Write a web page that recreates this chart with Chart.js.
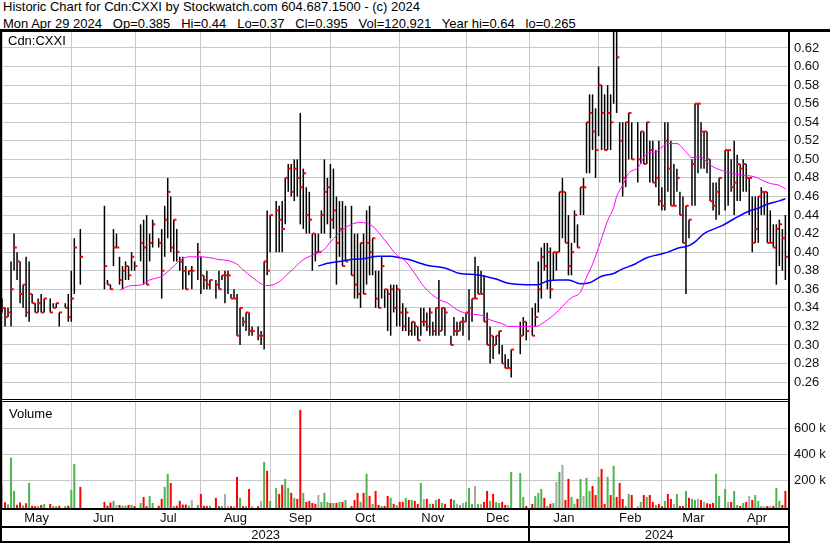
<!DOCTYPE html>
<html>
<head>
<meta charset="utf-8">
<script src="https://cdn.jsdelivr.net/npm/chart.js@4.4.1/dist/chart.umd.min.js"></script>
<style>
body { margin: 0; background: #fff; font-family: "Liberation Sans", Arial, sans-serif; color: #000; }
#wrap { position: relative; width: 830px; height: 543px; overflow: hidden; }
.t { position: absolute; white-space: pre; font-size: 13px; line-height: 15px; }
.ln { position: absolute; background: #000; }
canvas { position: absolute; left: 0; }
</style>
</head>
<body>
<div id="wrap">
  <div class="t" style="left:3px;top:-1px">Historic Chart for Cdn:CXXI by Stockwatch.com 604.687.1500 - (c) 2024</div>
  <div class="t" style="left:3px;top:16px">Mon Apr 29 2024   Op=0.385   Hi=0.44   Lo=0.37   Cl=0.395   Vol=120,921   Year hi=0.64   lo=0.265</div>
  <canvas id="price" width="830" height="367" style="top:32px"></canvas>
  <canvas id="vol" width="830" height="141" style="top:402px"></canvas>
  <div class="t" style="left:8px;top:33px">Cdn:CXXI</div>
  <div class="t" style="left:9px;top:406px">Volume</div>
  <div class="ln" style="left:0;top:29px;width:830px;height:3px"></div>
  <div class="ln" style="left:0;top:29px;width:2px;height:514px"></div>
  <div class="ln" style="left:788px;top:29px;width:2px;height:514px"></div>
  <div class="ln" style="left:0;top:399px;width:790px;height:1px"></div>
  <div class="ln" style="left:0;top:401px;width:790px;height:1px"></div>
  <div class="ln" style="left:0;top:508px;width:790px;height:2px"></div>
  <div class="ln" style="left:0;top:526px;width:790px;height:2px"></div>
  <div class="ln" style="left:0;top:541px;width:790px;height:2px"></div>
</div>
<script>
// axis labels
const months = ['May', 'Jun', 'Jul', 'Aug', 'Sep', 'Oct', 'Nov', 'Dec', 'Jan', 'Feb', 'Mar', 'Apr'];
const monthStart = [0, 23, 44.4, 66, 89, 109.1, 132, 154, 175, 198, 219, 240];   // weekday slot where each month begins
const years = ['2023', '2024'];
const yearStart = [0, 175];
const lastSlot = 261.2;
const priceTicks = [0.26, 0.28, 0.30, 0.32, 0.34, 0.36, 0.38, 0.40, 0.42, 0.44, 0.46, 0.48, 0.50, 0.52, 0.54, 0.56, 0.58, 0.60, 0.62];
const volTicks = [200, 400, 600];

// one slot per weekday, May 1 2023 .. Apr 29 2024 (null = no trade)
const hi = [
  .35,.34,.34,.39,.42,.40,.39,.365,.395,.39,.355,.345,.35,.355,.35,null,.35,.345,.345,.335,null,.345,.355,
  .38,.415,null,.425,null,null,null,null,null,null,null,.45,.37,.365,.425,.42,.395,.385,.39,.385,.40,.39,
  null,.43,.435,.44,.42,.435,null,.415,.425,.45,.48,.46,.435,.425,.395,.395,.385,.38,.385,null,.41,
  .395,.375,.38,.37,null,.37,.38,.375,.38,.38,.355,.36,.355,.34,.33,.335,.335,.32,null,.32,.315,.39,.445,
  .44,null,.455,.45,.455,.48,.495,.495,.50,.50,.55,.49,.47,.465,.42,.42,.42,.445,.50,.48,.495,
  .49,.46,.455,.455,.45,null,.45,.42,.42,.41,.42,.445,.45,.415,.38,.38,.395,.36,.36,.365,.365,.365,
  .36,.345,.34,.33,.325,.325,.32,.34,.34,.335,.34,.325,.34,.37,.34,.34,null,.31,.33,.325,.325,.33,
  .335,.36,.35,.395,.385,.38,.375,.335,.32,.31,.31,.315,.30,.29,.285,.295,null,null,.325,.33,.325,
  null,.34,.345,.39,.405,.41,.41,.405,.40,.40,.465,.48,.465,.44,.41,.445,.43,.47,.48,.54,.57,.57,.555,
  .60,.58,.57,.58,.57,.64,.64,.54,.54,.54,.55,.54,null,.54,.53,.53,.54,.52,.52,.51,.52,
  .47,.54,.54,.52,.495,.49,.465,.46,.45,.435,.50,.56,.56,.54,.53,.53,.50,.475,.475,.48,null,
  .51,.51,.50,.52,.505,.495,.50,.495,.48,.46,.46,.46,.47,.465,.465,.445,.43,.43,.435,.425,.44
];
const lo = [
  .335,.32,.33,.32,.38,.37,.345,.34,.33,.325,.345,.335,.335,.335,.335,null,.335,.34,.34,.32,null,.34,.325,
  .325,.355,null,.365,null,null,null,null,null,null,null,.36,.365,.36,.385,.405,.365,.36,.37,.37,.38,.38,
  null,.39,.365,.365,.39,.405,null,.405,.35,.395,.415,.40,.39,.39,.38,.36,.36,.375,.36,null,.37,
  .355,.36,.36,.36,null,.35,.36,.37,.345,.355,.35,.35,.31,.30,.32,.315,.31,.31,null,.305,.30,.295,.375,
  .40,null,.40,.40,.40,.43,.465,.46,.455,.46,.43,.425,.42,.42,.38,.39,.40,.42,.42,.43,.415,
  .425,.365,.395,.385,.39,null,.375,.35,.35,.34,.355,.365,.375,.375,.34,.34,.35,.34,.315,.31,.335,.32,
  .32,.315,.315,.31,.31,.31,.305,.31,.32,.315,.31,.31,.31,.31,.315,.31,null,.30,.31,.31,.315,.31,
  .325,.305,.325,.35,.355,.355,.325,.30,.28,.285,.30,.29,.28,.275,.275,.265,null,null,.29,.31,.305,
  null,.31,.32,.335,.35,.38,.36,.35,.37,.38,.40,.415,.41,.375,.375,.41,.405,.44,.44,.485,.485,.51,.48,
  .525,.51,.51,.51,.51,.56,.55,.475,.46,.47,.50,.50,null,.475,.495,.495,.495,.475,.475,.47,.45,
  .445,.445,.465,.45,.45,.465,.44,.41,.355,.415,.45,.45,.485,.49,.49,.485,.455,.445,.435,.44,null,
  .445,.45,.465,.44,.455,.455,.465,.465,.44,.40,.41,.41,.44,.44,.41,.41,.405,.365,.385,.38,.37
];
const cl = [
  .34,.33,.335,.36,.405,.39,.355,.365,.335,.355,.345,.335,.345,.335,.35,null,.335,.34,.345,.335,null,.34,.33,
  .35,.405,null,.395,null,null,null,null,null,null,null,.385,.365,.36,.405,.405,.37,.38,.385,.375,.395,.385,
  null,.41,.405,.365,.41,.43,null,.41,.38,.435,.465,.405,.435,.40,.39,.38,.36,.38,.38,null,.40,
  .375,.37,.365,.37,null,.365,.36,.375,.375,.375,.35,.35,.31,.34,.325,.335,.315,.315,null,.31,.31,.39,.38,
  .44,null,.445,.435,.425,.48,.49,.465,.49,.48,.47,.485,.44,.435,.42,.40,.40,.44,.465,.47,.435,
  .445,.41,.425,.385,.39,null,.375,.365,.355,.41,.355,.41,.40,.415,.35,.34,.385,.36,.355,.36,.34,.36,
  .335,.32,.335,.315,.325,.32,.305,.325,.325,.32,.335,.315,.34,.315,.34,.335,null,.30,.315,.315,.325,.325,
  .335,.34,.35,.35,.355,.355,.325,.30,.31,.30,.31,.315,.28,.275,.275,.295,null,null,.31,.325,.315,
  null,.31,.33,.36,.395,.385,.40,.36,.40,.40,.465,.465,.41,.385,.40,.44,.405,.47,.47,.54,.55,.53,.51,
  .58,.55,.51,.55,.54,.64,.61,.52,.48,.54,.55,.50,null,.50,.53,.495,.54,.51,.475,.48,.455,
  .45,.52,.49,.45,.45,.48,.44,.41,.45,.435,.495,.56,.56,.53,.53,.50,.455,.45,.465,.48,null,
  .51,.51,.47,.475,.495,.49,.495,.48,.48,.41,.425,.46,.465,.465,.41,.41,.405,.425,.43,.415,.395
];
// volume in thousands of shares
const vol = [
  172,34,19,376,121,15,34,10,27,182,8,5,5,14,22,null,22,5,5,8,null,5,8,
  129,327,null,152,null,null,null,null,null,null,null,37,8,32,45,14,14,8,8,14,14,5,
  null,29,75,5,83,29,null,8,60,152,251,182,5,8,45,17,17,8,50,null,14,
  98,8,5,8,null,68,5,5,98,5,5,5,228,68,5,5,136,5,null,5,45,343,274,
  45,null,144,98,167,213,144,106,68,60,740,106,37,45,29,22,90,37,106,37,29,
  29,29,37,37,52,null,5,52,106,37,106,251,83,22,121,14,5,6,83,68,22,14,
  37,37,68,52,52,45,22,182,60,60,22,22,52,60,29,22,null,60,52,22,14,29,
  37,144,22,159,22,22,37,121,45,98,37,29,37,14,14,266,null,null,258,75,6,
  null,22,83,106,136,68,6,22,29,190,266,320,52,213,75,22,60,213,83,221,121,159,90,
  228,289,22,228,90,312,75,182,60,6,98,90,null,6,37,90,75,90,37,14,22,
  5,45,98,60,22,98,6,6,121,68,60,52,60,52,37,27,22,30,251,83,null,
  136,37,37,121,14,6,29,37,83,52,90,45,5,5,6,5,6,144,45,14,121
];
// moving averages: [slot, value]
const maShort = [[39,.359],[43,.364],[46,.3645],[49,.37],[53,.374],[55,.379],[57,.385],[59,.391],[62,.395],[66,.395],
  [69,.394],[72,.392],[75,.391],[78,.387],[80,.381],[83,.373],[86,.366],[88,.364],[92,.368],[94,.374],[97,.383],
  [100,.392],[104,.398],[107,.403],[109,.411],[113,.424],[116,.43],[119,.432],[123,.428],[125,.421],[128,.409],
  [131,.397],[134,.39],[137,.377],[140,.363],[145,.349],[148,.345],[151,.338],[154,.334],[159,.332],[162,.327],
  [166,.323],[168,.32],[174,.32],[177,.32],[181,.327],[185,.338],[187,.345],[189,.351],[192,.357],[194,.373],
  [196,.387],[198,.405],[201,.434],[203,.448],[204,.46],[206,.472],[208,.485],[211,.491],[214,.506],[217,.508],
  [219,.513],[221,.517],[224,.517],[227,.508],[229,.502],[232,.503],[233,.50],[236,.492],[239,.488],[242,.485],
  [246,.483],[250,.481],[252,.478],[255,.474],[258,.472],[260,.468]];
const maLong = [[105,.385],[108,.388],[112,.39],[116,.392],[120,.393],[125,.3955],[129,.3955],[132,.394],[135,.392],
  [141,.386],[147,.383],[152,.377],[158,.3755],[164,.371],[168,.3665],[174,.365],[178,.365],[181,.369],[185,.37],
  [188,.37],[192,.366],[195,.367],[199,.374],[203,.377],[206,.382],[210,.387],[214,.394],[218,.3975],[221,.4],
  [224,.404],[228,.407],[230,.411],[233,.42],[239,.4286],[243,.436],[248,.4444],[251,.4474],[254,.4517],[258,.4553],[260,.4575]];

Chart.defaults.font.family = '"Liberation Sans", Arial, sans-serif';
Chart.defaults.font.size = 13;
Chart.defaults.color = '#111';

const GRID = '#c8c8c8';

// build points
let rangePts = [], closePts = [], volPts = [], volColors = [];
let prev = null;
for (let i = 0; i < hi.length; i++) {
    if (hi[i] !== null) {
        rangePts.push({x: i, y: [lo[i], hi[i]]});
        closePts.push({x: i + 0.45, y: cl[i]});
    }
    if (vol[i] !== null) {
        volPts.push({x: i, y: vol[i]});
        let c = '#a8a8a8';
        if (prev !== null && cl[i] > prev) c = '#4fb34f';
        if (prev !== null && cl[i] < prev) c = '#ff0000';
        volColors.push(c);
    }
    if (cl[i] !== null) prev = cl[i];
}
const toPts = arr => arr.map(p => ({x: p[0], y: p[1]}));

// keep the plot area exactly where the axis range says
function noPad(s) {
    s.paddingTop = 0;
    s.paddingBottom = 0;
    s.paddingLeft = 0;
    s.paddingRight = 0;
}

function monthGridAxis() {
    return {
        type: 'linear', min: 0, max: lastSlot, offset: false,
        afterBuildTicks: s => { s.ticks = monthStart.map(v => ({value: v})); },
        afterFit: s => { s.height = 0; noPad(s); },
        ticks: {display: false},
        grid: {color: GRID, drawTicks: false, offset: false},
        border: {display: false}
    };
}

new Chart(document.getElementById('price'), {
    type: 'bar',
    data: {
        datasets: [
            {type: 'line', data: toPts(maShort), borderColor: '#ff00ff', borderWidth: 1, pointRadius: 0, cubicInterpolationMode: 'monotone'},
            {type: 'line', data: toPts(maLong), borderColor: '#0000ff', borderWidth: 1.5, pointRadius: 0, cubicInterpolationMode: 'monotone'},
            {type: 'line', data: closePts, showLine: false, pointStyle: 'line', pointRadius: 1.4,
             pointBorderWidth: 2, pointBorderColor: '#ff0000', pointBackgroundColor: '#ff0000'},
            {type: 'bar', data: rangePts, backgroundColor: '#000', barThickness: 1.5, inflateAmount: 0, grouped: false}
        ]
    },
    options: {
        responsive: false, animation: false, events: [],
        layout: {autoPadding: false, padding: {left: 2, top: 0, right: 0, bottom: 0}},
        plugins: {legend: {display: false}, tooltip: {enabled: false}},
        scales: {
            x: monthGridAxis(),
            y: {
                position: 'right', min: 0.24177, max: 0.63724,
                afterBuildTicks: s => { s.ticks = priceTicks.map(v => ({value: v})); },
                afterFit: s => { s.width = 41; noPad(s); },
                ticks: {padding: 5, callback: v => v.toFixed(2)},
                grid: {color: GRID, drawTicks: false},
                border: {display: false}
            }
        }
    }
});

// year row under the month labels
const yearRow = {
    id: 'yearRow',
    afterDraw(chart) {
        const ctx = chart.ctx, xs = chart.scales.xm;
        const b = yearStart.concat([lastSlot]);
        ctx.save();
        ctx.font = '13px "Liberation Sans", Arial, sans-serif';
        ctx.textAlign = 'center';
        ctx.textBaseline = 'middle';
        for (let k = 0; k < years.length; k++) {
            const x0 = xs.getPixelForValue(b[k]), x1 = xs.getPixelForValue(b[k + 1]);
            ctx.fillStyle = '#111';
            ctx.fillText(years[k], (x0 + x1) / 2, 133);
            if (k > 0) {
                ctx.fillStyle = '#000';
                ctx.fillRect(Math.round(x0) - 1, 106, 2, 35);
            }
        }
        ctx.restore();
    }
};

const monthMid = monthStart.map((v, k) => (v + (k + 1 < monthStart.length ? monthStart[k + 1] : lastSlot)) / 2);

new Chart(document.getElementById('vol'), {
    type: 'bar',
    data: {
        datasets: [{data: volPts, backgroundColor: volColors, barThickness: 2, inflateAmount: 0, base: -17, grouped: false}]
    },
    options: {
        responsive: false, animation: false, events: [],
        layout: {autoPadding: false, padding: {left: 2, top: 0, right: 0, bottom: 0}},
        plugins: {legend: {display: false}, tooltip: {enabled: false}},
        scales: {
            x: monthGridAxis(),
            xm: {
                type: 'linear', position: 'bottom', min: 0, max: lastSlot, offset: false,
                afterBuildTicks: s => { s.ticks = monthMid.map(v => ({value: v})); },
                afterFit: s => { s.height = 34; noPad(s); },
                ticks: {padding: 2, autoSkip: false, maxRotation: 0, callback: (v, i) => months[i]},
                grid: {display: false, drawTicks: false},
                border: {display: false}
            },
            y: {
                position: 'right', min: -17, max: 800,
                afterBuildTicks: s => { s.ticks = volTicks.map(v => ({value: v})); },
                afterFit: s => { s.width = 41; noPad(s); },
                ticks: {padding: 5, callback: v => v + ' k'},
                grid: {color: GRID, drawTicks: false},
                border: {display: false}
            }
        }
    },
    plugins: [yearRow]
});
</script>
</body>
</html>
